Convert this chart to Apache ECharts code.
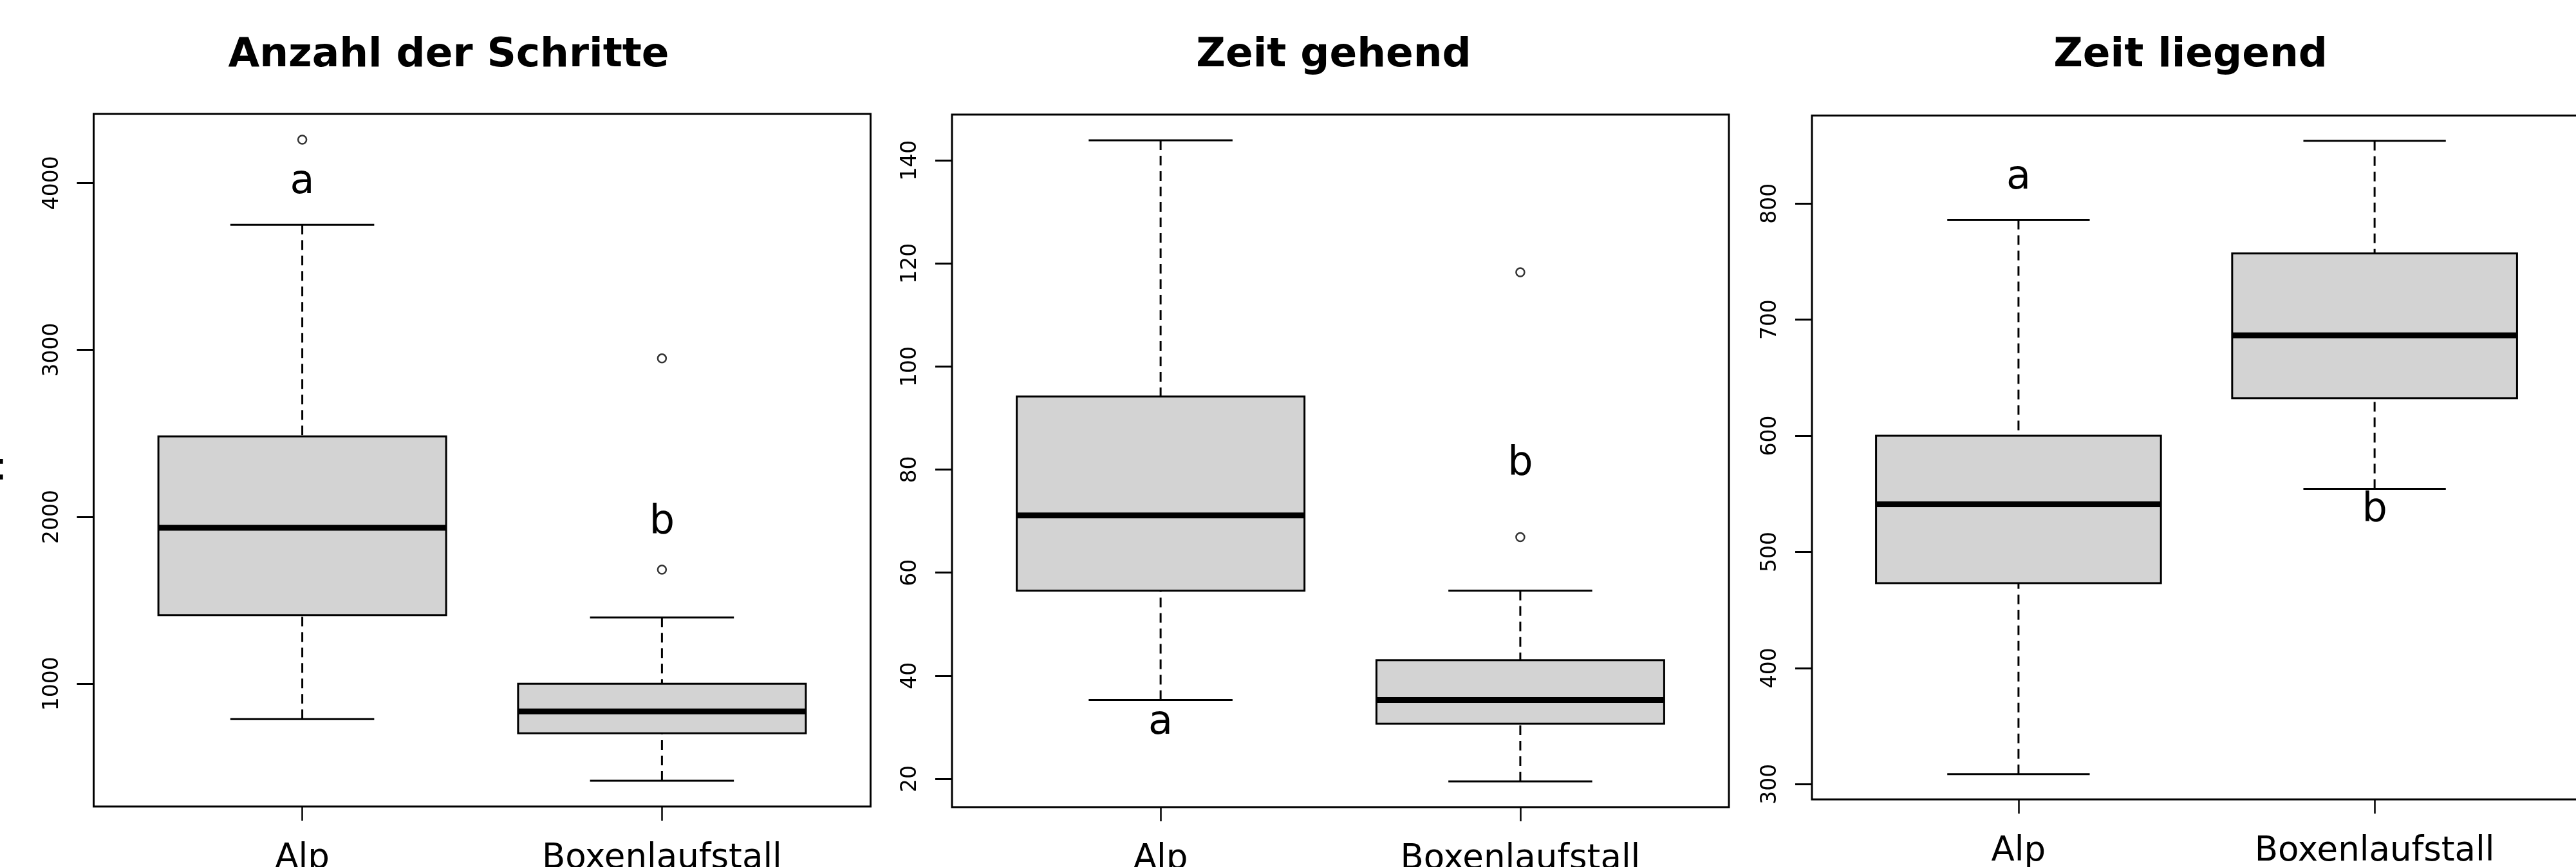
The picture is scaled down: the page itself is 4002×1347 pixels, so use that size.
<!DOCTYPE html>
<html>
<head>
<meta charset="utf-8">
<title>Boxplots</title>
<script src="https://cdn.jsdelivr.net/npm/echarts@6/dist/echarts.min.js"></script>
<style>
  html, body { margin: 0; padding: 0; background: #fff; }
  #chart { width: 4002px; height: 1347px; }
</style>
</head>
<body>
<div id="chart"></div>
<script>
// groups on the x axis
const groups = ["Alp", "Boxenlaufstall"];
const titles = ["Anzahl der Schritte", "Zeit gehend", "Zeit liegend"];
const letters = ["a", "b"];

// box stats per group: [lower whisker, Q1, median, Q3, upper whisker]
const schritteStats = [[788, 1410, 1934, 2482, 3750], [418, 703, 834, 1000, 1397]];
const schritteOutliers = [[1, 4260], [2, 2949], [2, 1683]];
const schritteLetterY = [4000, 1965];
const schritteTicks = [1000, 2000, 3000, 4000];

const gehendStats = [[35.3, 56.5, 71.1, 94.2, 143.9], [19.5, 30.7, 35.3, 43.0, 56.5]];
const gehendOutliers = [[2, 118.3], [2, 66.9]];
const gehendLetterY = [30.8, 81.1];
const gehendTicks = [20, 40, 60, 80, 100, 120, 140];

const liegendStats = [[308.6, 473, 541, 600, 786], [554.3, 632.3, 686.5, 757, 854]];
const liegendOutliers = [];
const liegendLetterY = [822, 536];
const liegendTicks = [300, 400, 500, 600, 700, 800];

const panels = [
  { stats: schritteStats, outliers: schritteOutliers, letterY: schritteLetterY, ticks: schritteTicks,
    left: 145.5, top: 177, width: 1207, height: 1076, min: 264, max: 4414, titleX: 697 },
  { stats: gehendStats, outliers: gehendOutliers, letterY: gehendLetterY, ticks: gehendTicks,
    left: 1479, top: 178, width: 1207, height: 1076, min: 14.5, max: 148.9, titleX: 2072 },
  { stats: liegendStats, outliers: liegendOutliers, letterY: liegendLetterY, ticks: liegendTicks,
    left: 2815, top: 179.5, width: 1195, height: 1062.5, min: 286.8, max: 875.8, titleX: 3403 }
];

const FONT = "DejaVu Sans";

function renderBox(params, api) {
  const x = api.value(0);
  const lo = api.value(1), q1 = api.value(2), med = api.value(3), q3 = api.value(4), hi = api.value(5);
  const tl = api.coord([x - 0.4, q3]);
  const br = api.coord([x + 0.4, q1]);
  const m1 = api.coord([x - 0.4, med]);
  const m2 = api.coord([x + 0.4, med]);
  const top = api.coord([x, hi]);
  const bot = api.coord([x, lo]);
  const q3p = api.coord([x, q3]);
  const q1p = api.coord([x, q1]);
  const capL = api.coord([x - 0.2, hi])[0];
  const capR = api.coord([x + 0.2, hi])[0];
  const line = { stroke: "#000", lineWidth: 3 };
  const dash = { stroke: "#000", lineWidth: 3, lineDash: [15, 9] };
  return {
    type: "group",
    children: [
      { type: "line", shape: { x1: top[0], y1: top[1], x2: q3p[0], y2: q3p[1] }, style: dash },
      { type: "line", shape: { x1: bot[0], y1: bot[1], x2: q1p[0], y2: q1p[1] }, style: dash },
      { type: "line", shape: { x1: capL, y1: top[1], x2: capR, y2: top[1] }, style: line },
      { type: "line", shape: { x1: capL, y1: bot[1], x2: capR, y2: bot[1] }, style: line },
      { type: "rect", shape: { x: tl[0], y: tl[1], width: br[0] - tl[0], height: br[1] - tl[1] },
        style: { fill: "#d3d3d3", stroke: "#000", lineWidth: 3 } },
      { type: "line", shape: { x1: m1[0], y1: m1[1], x2: m2[0], y2: m2[1] }, style: { stroke: "#000", lineWidth: 9 } }
    ]
  };
}

function renderLetter(params, api) {
  const p = api.coord([api.value(0), api.value(1)]);
  return {
    type: "text",
    x: p[0], y: p[1],
    style: {
      text: letters[params.dataIndex], fill: "#000",
      font: "62px '" + FONT + "'",
      textAlign: "center", align: "center",
      textVerticalAlign: "middle", verticalAlign: "middle"
    }
  };
}

const grid = [], xAxis = [], yAxis = [], series = [], graphic = [];

panels.forEach(function (p, i) {
  grid.push({
    left: p.left, top: p.top, width: p.width, height: p.height,
    outerBoundsMode: "none", containLabel: false,
    show: true, borderColor: "#000", borderWidth: 3, backgroundColor: "transparent"
  });
  xAxis.push({
    type: "value", gridIndex: i, min: 0.42, max: 2.58,
    splitLine: { show: false }, axisLine: { show: false },
    axisTick: { show: true, customValues: [1, 2], length: 22, lineStyle: { color: "#000", width: 2.5 } },
    axisLabel: {
      show: true, customValues: [1, 2], margin: 55,
      color: "#000", fontSize: 53, fontFamily: FONT,
      formatter: function (v) { return groups[Math.round(v) - 1]; }
    }
  });
  yAxis.push({
    type: "value", gridIndex: i, min: p.min, max: p.max,
    splitLine: { show: false }, axisLine: { show: false },
    axisTick: { show: true, customValues: p.ticks, length: 26, lineStyle: { color: "#000", width: 3 } },
    axisLabel: {
      show: true, customValues: p.ticks, rotate: 90, margin: 48,
      color: "#000", fontSize: 33, fontFamily: FONT,
      formatter: function (v) { return String(v); }
    }
  });
  series.push({
    type: "custom", xAxisIndex: i, yAxisIndex: i,
    renderItem: renderBox,
    data: p.stats.map(function (s, k) { return [k + 1].concat(s); })
  });
  series.push({
    type: "scatter", xAxisIndex: i, yAxisIndex: i,
    symbol: "circle", symbolSize: 13,
    itemStyle: { color: "rgba(0,0,0,0)", borderColor: "#000", borderWidth: 2.5 },
    data: p.outliers
  });
  series.push({
    type: "custom", xAxisIndex: i, yAxisIndex: i,
    renderItem: renderLetter,
    data: p.letterY.map(function (y, k) { return [k + 1, y]; })
  });
  graphic.push({
    type: "text", x: p.titleX, y: 55,
    style: {
      text: titles[i], fill: "#000",
      font: "bold 63px '" + FONT + "'",
      textAlign: "center", align: "center",
      textVerticalAlign: "top", verticalAlign: "top"
    }
  });
});

// cut-off colon at the far left edge
graphic.push({
  type: "text", x: 12, y: 729,
  style: {
    text: ":", fill: "#000", font: "62px '" + FONT + "'",
    textAlign: "right", align: "right",
    textVerticalAlign: "middle", verticalAlign: "middle"
  }
});

const chart = echarts.init(document.getElementById("chart"), null, { renderer: "canvas" });
chart.setOption({
  animation: false,
  backgroundColor: "#fff",
  grid: grid,
  xAxis: xAxis,
  yAxis: yAxis,
  series: series,
  graphic: graphic
});
</script>
</body>
</html>
